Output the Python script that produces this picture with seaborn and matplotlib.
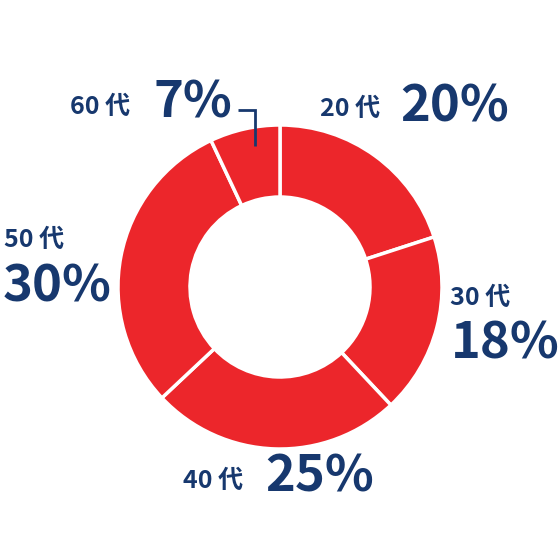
import matplotlib
matplotlib.use("Agg")
import matplotlib.pyplot as plt
import seaborn as sns

# DATA
ages = ["20 代", "30 代", "40 代", "50 代", "60 代"]
shares = [20, 18, 25, 30, 7]
pct_labels = ["20%", "18%", "25%", "30%", "7%"]

RED = "#ec262b"
NAVY = "#17386e"

sns.set_theme(style="white")
plt.rcParams['font.family'] = ['Noto Sans CJK JP', 'DejaVu Sans']

fig = plt.figure(figsize=(5.6, 5.6), dpi=100)
ax = fig.add_axes([0, 0, 1, 1])

# donut
cx, cy, r_out, r_in = 280, 273, 162, 90
ax.pie(shares, colors=[RED] * len(shares), startangle=90, counterclock=False,
       center=(cx, cy), radius=r_out, frame=True,
       wedgeprops=dict(width=r_out - r_in, edgecolor='white', linewidth=2.5))
ax.set_xlim(0, 560)
ax.set_ylim(0, 560)
ax.set_aspect('equal')
ax.axis('off')

# label positions (small label, big percent) in pixel coords from top-left
small_pos = [(320, 109), (450, 298), (183, 481), (4, 240), (70, 107)]
big_pos = [(400, 107), (451, 344), (265, 477), (3, 287), (153, 103)]

for i in range(len(ages)):
    sx, sy = small_pos[i]
    bx, by = big_pos[i]
    ax.text(sx, 560 - sy, ages[i], fontsize=18, fontweight='bold', color=NAVY,
            ha='left', va='center')
    ax.text(bx, 560 - by, pct_labels[i], fontsize=36.5, fontweight='bold', color=NAVY,
            ha='left', va='center')

# leader line for 60 代
ax.plot([238, 255, 255], [560 - 110, 560 - 110, 560 - 146], color=NAVY, lw=2,
        solid_capstyle='butt', solid_joinstyle='miter')

fig.savefig("out.png", dpi=100)
